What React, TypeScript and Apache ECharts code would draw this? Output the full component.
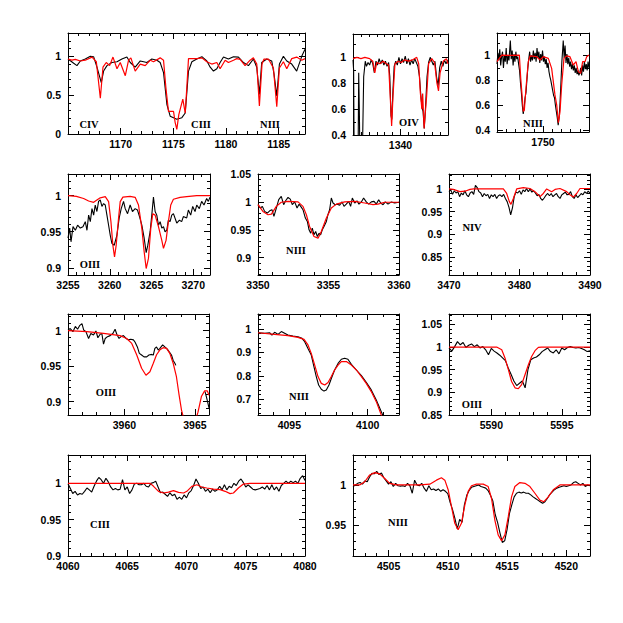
import React, { useEffect, useRef } from "react";
import * as echarts from "echarts";

type Pt = [number, number | null];

// ---------- Panel 1: 1165-1187.5 (CIV, CIII, NIII) ----------
const p1Obs: Pt[] = [[1165.0,0.965],[1165.54,0.91],[1165.85,0.88],[1166.17,0.94],[1166.64,0.965],[1167.12,1.0],[1167.43,0.995],[1167.75,0.86],[1168.16,0.66],[1168.38,0.81],[1168.70,0.88],[1169.17,0.92],[1169.65,0.93],[1170.12,0.965],[1170.59,0.99],[1170.91,0.92],[1171.38,0.86],[1171.86,0.94],[1172.49,0.92],[1172.96,0.965],[1173.44,0.95],[1173.75,0.92],[1174.07,0.79],[1174.39,0.38],[1174.70,0.23],[1175.33,0.19],[1175.81,0.21],[1176.13,0.27],[1176.44,0.81],[1176.76,0.93],[1177.23,0.965],[1177.71,0.995],[1178.18,0.94],[1178.50,0.86],[1178.81,0.81],[1179.13,0.84],[1179.44,0.92],[1179.76,0.99],[1180.23,0.965],[1180.71,0.995],[1181.18,0.99],[1181.66,0.92],[1182.13,0.88],[1182.60,0.965],[1182.92,0.86],[1183.17,0.51],[1183.39,0.92],[1183.87,0.965],[1184.34,0.94],[1184.56,0.77],[1184.82,0.49],[1185.07,0.90],[1185.45,1.0],[1185.77,0.94],[1186.24,0.90],[1186.71,0.81],[1187.19,1.0],[1187.5,1.09]];
const p1Mod: Pt[] = [[1165.0,0.965],[1165.38,0.95],[1165.70,0.96],[1166.17,0.94],[1166.64,0.95],[1167.28,0.99],[1167.69,0.93],[1168.07,0.46],[1168.32,0.86],[1168.63,0.92],[1168.95,0.88],[1169.27,0.99],[1169.65,0.84],[1169.96,0.92],[1170.44,0.75],[1170.75,0.95],[1170.97,0.98],[1171.38,0.81],[1171.86,0.90],[1172.33,0.88],[1172.81,0.95],[1173.12,0.93],[1173.75,0.98],[1174.07,0.95],[1174.29,0.60],[1174.54,0.29],[1175.02,0.29],[1175.17,0.15],[1175.33,0.06],[1175.52,0.25],[1175.90,0.45],[1176.13,0.27],[1176.28,0.60],[1176.44,0.97],[1177.23,0.97],[1177.71,0.98],[1178.18,0.93],[1178.65,0.90],[1179.13,0.92],[1179.44,0.84],[1179.92,0.95],[1180.23,0.92],[1180.71,0.95],[1181.02,0.97],[1181.34,0.96],[1181.81,0.88],[1182.29,0.95],[1182.60,0.98],[1182.92,0.90],[1183.17,0.36],[1183.42,0.90],[1183.61,0.965],[1184.03,0.965],[1184.50,0.85],[1184.82,0.35],[1185.07,0.85],[1185.45,0.93],[1185.77,0.84],[1186.24,0.97],[1186.71,0.99],[1187.19,0.95],[1187.5,0.97]];

// ---------- Panel 2: 1334-1346 (OIV) ----------
const p2Obs: Pt[] = [[1334.0,0.98],[1334.08,0.9],[1334.15,0.2],[1334.5,0.1],[1334.65,0.3],[1334.72,0.88],[1334.8,0.6],[1334.88,0.2],[1335.1,0.2],[1335.2,0.3],[1335.35,0.85],[1335.55,0.97],[1335.7,0.93],[1335.9,0.96],[1336.1,0.94],[1336.3,0.98],[1336.5,0.95],[1336.7,0.88],[1336.9,0.97],[1337.1,0.94],[1337.3,0.99],[1337.5,0.95],[1337.7,0.98],[1337.9,0.94],[1338.1,0.97],[1338.3,0.93],[1338.5,0.96],[1338.65,0.85],[1338.8,0.55],[1338.9,0.52],[1339.05,0.75],[1339.2,0.93],[1339.4,0.97],[1339.6,0.94],[1339.8,1.0],[1340.0,0.95],[1340.2,0.99],[1340.4,0.96],[1340.6,1.01],[1340.8,0.95],[1341.0,0.99],[1341.2,0.94],[1341.4,0.98],[1341.6,0.95],[1341.8,0.99],[1342.0,0.96],[1342.2,0.93],[1342.4,0.85],[1342.55,0.72],[1342.7,0.62],[1342.85,0.58],[1343.0,0.45],[1343.15,0.6],[1343.35,0.85],[1343.55,0.96],[1343.75,1.0],[1343.95,0.97],[1344.15,0.94],[1344.35,0.97],[1344.55,0.85],[1344.75,0.78],[1344.95,0.92],[1345.15,0.97],[1345.35,0.93],[1345.55,0.98],[1345.75,0.95],[1346.0,0.98]];
const p2Mod: Pt[] = [[1334.0,0.99],[1334.5,1.0],[1335.0,0.99],[1335.5,1.0],[1336.1,0.99],[1336.5,0.97],[1336.75,0.88],[1337.0,0.96],[1337.4,0.95],[1337.8,0.97],[1338.2,0.95],[1338.5,0.94],[1338.7,0.7],[1338.88,0.47],[1339.05,0.7],[1339.3,0.95],[1339.7,0.97],[1340.1,0.96],[1340.5,0.98],[1341.0,0.97],[1341.5,0.98],[1342.05,1.0],[1342.3,0.95],[1342.5,0.73],[1342.7,0.6],[1342.8,0.72],[1342.98,0.45],[1343.3,0.7],[1343.55,0.95],[1343.95,0.99],[1344.3,0.96],[1344.6,0.8],[1344.8,0.74],[1345.0,0.88],[1345.4,0.97],[1345.8,0.99],[1346.0,0.95]];

// ---------- Panel 3: 1745-1755 (NIII) ----------
const p3Obs: Pt[] = [[1745.0,0.93],[1745.1,1.02],[1745.2,0.96],[1745.3,1.05],[1745.4,0.92],[1745.5,0.99],[1745.6,1.03],[1745.7,0.9],[1745.8,1.0],[1745.9,0.95],[1746.0,1.06],[1746.1,0.93],[1746.2,1.0],[1746.3,0.96],[1746.45,1.12],[1746.55,0.97],[1746.65,1.04],[1746.75,0.92],[1746.85,1.01],[1746.95,0.95],[1747.05,1.03],[1747.15,0.97],[1747.25,0.99],[1747.35,0.93],[1747.45,0.88],[1747.55,0.78],[1747.65,0.7],[1747.75,0.6],[1747.85,0.53],[1747.95,0.58],[1748.05,0.66],[1748.15,0.7],[1748.25,0.8],[1748.35,0.9],[1748.45,0.97],[1748.55,1.03],[1748.65,0.95],[1748.75,1.0],[1748.85,0.96],[1748.95,1.04],[1749.05,0.97],[1749.15,1.02],[1749.25,0.95],[1749.35,1.06],[1749.45,0.98],[1749.55,1.03],[1749.65,0.94],[1749.75,1.01],[1749.85,0.96],[1749.95,1.04],[1750.05,0.95],[1750.15,0.99],[1750.25,0.93],[1750.35,0.97],[1750.45,0.9],[1750.55,0.94],[1750.65,0.87],[1750.75,0.83],[1750.85,0.8],[1750.95,0.76],[1751.05,0.72],[1751.15,0.68],[1751.25,0.66],[1751.35,0.6],[1751.45,0.55],[1751.55,0.5],[1751.65,0.44],[1751.75,0.5],[1751.85,0.62],[1751.95,0.78],[1752.05,0.95],[1752.15,1.06],[1752.2,1.12],[1752.3,0.98],[1752.4,1.08],[1752.5,0.94],[1752.6,1.01],[1752.7,0.93],[1752.8,0.98],[1752.9,0.91],[1753.0,0.95],[1753.1,0.89],[1753.2,0.93],[1753.3,0.88],[1753.4,0.92],[1753.5,0.86],[1753.6,0.9],[1753.7,0.85],[1753.8,0.88],[1753.9,0.84],[1754.0,0.86],[1754.1,0.9],[1754.2,0.84],[1754.3,0.92],[1754.4,0.87],[1754.5,0.95],[1754.6,0.89],[1754.7,0.93],[1754.8,0.88],[1754.9,0.95],[1755.0,0.9]];
const p3Mod: Pt[] = [[1745.0,0.95],[1745.51,1.003],[1746.5,1.0],[1747.43,1.003],[1747.58,0.816],[1747.86,0.55],[1747.97,0.56],[1748.15,0.736],[1748.40,0.95],[1748.59,0.996],[1749.31,0.99],[1749.67,0.963],[1750.03,0.99],[1750.58,0.976],[1750.94,0.896],[1751.30,0.683],[1751.49,0.603],[1751.67,0.46],[1751.85,0.549],[1752.03,0.763],[1752.28,0.976],[1752.57,0.996],[1752.93,0.99],[1753.29,0.923],[1753.59,0.95],[1753.84,0.87],[1754.09,0.856],[1754.31,0.95],[1754.57,0.95],[1754.75,0.99],[1755.0,1.003]];

// ---------- Panel 4: 3255-3272 (OIII) ----------
const p4Obs: Pt[] = [[3255.00,0.941],[3255.20,0.955],[3255.36,0.936],[3255.60,0.957],[3255.88,0.952],[3256.15,0.959],[3256.47,0.955],[3256.79,0.957],[3257.07,0.964],[3257.27,0.952],[3257.47,0.973],[3257.67,0.964],[3257.87,0.982],[3258.07,0.973],[3258.26,0.987],[3258.46,0.978],[3258.66,0.992],[3258.86,0.994],[3259.06,0.985],[3259.26,0.989],[3259.46,0.987],[3259.66,0.973],[3259.86,0.959],[3260.06,0.945],[3260.25,0.934],[3260.53,0.931],[3260.85,0.945],[3261.13,0.969],[3261.37,0.982],[3261.65,0.992],[3261.85,0.982],[3262.13,0.975],[3262.44,0.987],[3262.72,0.978],[3263.04,0.982],[3263.32,0.980],[3263.56,0.971],[3263.84,0.959],[3264.12,0.941],[3264.36,0.921],[3264.55,0.931],[3264.83,0.950],[3265.03,0.973],[3265.23,0.998],[3265.43,0.978],[3265.63,0.973],[3265.83,0.959],[3266.03,0.964],[3266.23,0.955],[3266.43,0.957],[3266.62,0.950],[3266.82,0.952],[3267.02,0.966],[3267.22,0.964],[3267.42,0.973],[3267.62,0.975],[3268.02,0.962],[3268.34,0.966],[3268.61,0.964],[3268.81,0.971],[3269.21,0.969],[3269.41,0.980],[3269.69,0.973],[3269.93,0.985],[3270.21,0.978],[3270.41,0.987],[3270.72,0.982],[3271.00,0.992],[3271.28,0.987],[3271.60,0.996],[3271.80,0.992],[3272.00,0.998]];
const p4Mod: Pt[] = [[3255,1.0],[3256.0,0.999],[3256.87,0.996],[3257.47,0.9926],[3258.07,0.9907],[3258.46,0.994],[3258.86,0.997],[3259.46,0.9986],[3259.86,0.9917],[3260.14,0.964],[3260.37,0.9315],[3260.57,0.915],[3260.77,0.9315],[3261.05,0.9685],[3261.25,0.9917],[3261.57,0.998],[3262.44,0.999],[3263.04,0.9977],[3263.44,0.987],[3263.84,0.9546],[3264.12,0.922],[3264.36,0.899],[3264.63,0.913],[3264.91,0.9546],[3265.15,0.975],[3265.43,0.973],[3265.83,0.957],[3266.23,0.938],[3266.43,0.927],[3266.74,0.938],[3267.02,0.964],[3267.30,0.987],[3267.62,0.995],[3268.42,0.9977],[3269.21,0.9986],[3270.41,1.0],[3272,1.0]];

// ---------- Panel 5: 3350-3360 (NIII) ----------
const p5Obs: Pt[] = [[3350.00,0.995],[3350.17,0.989],[3350.31,0.992],[3350.47,0.983],[3350.66,0.980],[3350.83,0.984],[3350.99,0.986],[3351.13,0.974],[3351.30,0.989],[3351.47,1.004],[3351.65,1.010],[3351.82,0.995],[3351.96,1.002],[3352.13,1.008],[3352.29,1.005],[3352.43,0.995],[3352.60,1.0],[3352.77,0.989],[3352.91,0.996],[3353.03,0.992],[3353.19,0.986],[3353.36,0.971],[3353.50,0.965],[3353.62,0.950],[3353.74,0.944],[3353.85,0.953],[3353.97,0.941],[3354.09,0.947],[3354.21,0.938],[3354.33,0.944],[3354.44,0.941],[3354.56,0.950],[3354.68,0.956],[3354.85,0.965],[3354.96,0.977],[3355.08,0.986],[3355.20,1.007],[3355.32,0.998],[3355.48,0.995],[3355.63,0.996],[3355.79,0.994],[3355.96,1.0],[3356.10,0.992],[3356.26,0.996],[3356.43,1.001],[3356.57,0.992],[3356.69,1.007],[3356.86,0.998],[3357.02,1.002],[3357.16,0.996],[3357.33,1.0],[3357.49,1.007],[3357.68,1.0],[3357.85,0.996],[3358.04,1.0],[3358.23,1.001],[3358.39,0.996],[3358.56,1.004],[3358.70,0.998],[3358.87,0.995],[3359.03,1.0],[3359.22,0.996],[3359.46,1.0],[3359.69,0.998],[3360.00,0.9994]];
const p5Mod: Pt[] = [[3350,0.995],[3350.35,0.983],[3350.71,0.977],[3350.95,0.978],[3351.30,0.992],[3351.65,0.9994],[3352.13,1.001],[3352.84,1.0],[3353.19,0.992],[3353.43,0.977],[3353.66,0.956],[3353.97,0.938],[3354.26,0.935],[3354.49,0.947],[3354.85,0.971],[3355.20,0.989],[3355.56,0.996],[3356.15,1.0],[3356.86,1.001],[3357.57,0.998],[3358.16,0.995],[3358.51,0.996],[3358.98,0.9994],[3360,0.9994]];

// ---------- Panel 6: 3470-3490 (NIV), observed on a 0.25 A grid ----------
const p6Start = 3470;
const p6Step = 0.25;
const p6Flux: number[] = [0.994,0.998,0.988,0.996,0.991,0.994,0.983,0.991,0.987,0.996,0.987,0.983,0.991,0.994,0.988,1.008,1.003,0.994,0.991,0.983,0.990,0.985,0.988,0.979,0.987,0.983,0.988,0.979,0.985,0.987,0.983,0.988,0.979,0.972,0.960,0.943,0.958,0.983,0.993,0.991,0.996,0.988,0.998,0.994,1.001,0.994,1.0,0.993,0.996,0.991,0.985,0.988,0.979,0.975,0.980,0.986,0.990,0.985,0.990,0.983,0.987,0.990,0.983,0.979,0.987,0.990,0.993,0.987,0.988,0.994,0.983,0.979,0.987,0.981,0.985,0.990,0.987,0.994,0.990,0.995,0.991];
const p6Mod: Pt[] = [[3470,1.0],[3470.61,0.999],[3471.56,0.994],[3472.27,0.995],[3472.98,0.999],[3473.5,1.0],[3477.71,1.0],[3478.18,0.99],[3478.56,0.972],[3478.79,0.966],[3479.13,0.979],[3479.60,1.0],[3480.54,1.003],[3481.49,1.001],[3482.20,0.994],[3482.91,0.983],[3483.38,0.99],[3483.85,1.0],[3484.56,0.994],[3485.04,0.999],[3485.74,1.001],[3486.69,0.994],[3487.16,0.987],[3487.64,0.982],[3488.11,0.99],[3488.58,1.001],[3490,1.001]];

// ---------- Panel 7: 3956-3966 (OIII); the observed spectrum has a gap ----------
const p7Obs: Pt[] = [[3956.00,1.001],[3956.16,1.003],[3956.35,0.9986],[3956.52,1.006],[3956.68,1.002],[3956.82,1.007],[3956.99,1.010],[3957.11,1.001],[3957.27,0.9986],[3957.46,0.989],[3957.62,0.996],[3957.81,0.994],[3957.98,0.9995],[3958.12,0.990],[3958.28,0.995],[3958.40,0.996],[3958.52,0.981],[3958.64,0.989],[3958.80,0.9915],[3958.99,0.993],[3959.18,0.996],[3959.34,1.002],[3959.46,0.995],[3959.62,0.989],[3959.76,0.9915],[3959.93,0.993],[3960.12,0.989],[3960.28,0.987],[3960.45,0.988],[3960.64,0.987],[3960.75,0.984],[3960.92,0.977],[3961.06,0.968],[3961.22,0.9656],[3961.39,0.963],[3961.58,0.963],[3961.74,0.9656],[3961.88,0.9665],[3962.05,0.9656],[3962.16,0.975],[3962.28,0.977],[3962.40,0.9726],[3962.52,0.975],[3962.71,0.980],[3962.87,0.977],[3963.04,0.974],[3963.18,0.970],[3963.34,0.9656],[3963.46,0.958],[3963.58,0.954],[3963.65,0.951],[3963.7,null],[3965.72,0.914],[3965.86,0.903],[3966.0,0.891]];
const p7Mod: Pt[] = [[3956,1.0],[3957.34,0.9986],[3958.52,0.9962],[3959.69,0.993],[3960.16,0.989],[3960.52,0.982],[3960.87,0.966],[3961.22,0.947],[3961.53,0.937],[3961.81,0.942],[3962.05,0.954],[3962.28,0.966],[3962.52,0.973],[3962.75,0.976],[3962.99,0.975],[3963.22,0.968],[3963.46,0.954],[3963.69,0.935],[3963.88,0.909],[3964.05,0.888],[3964.21,0.876],[3964.64,0.85],[3965.22,0.885],[3965.46,0.907],[3965.69,0.915],[3965.88,0.915],[3966,0.909]];

// ---------- Panel 8: 4093-4102 (NIII) ----------
const p8Obs: Pt[] = [[4093.00,0.984],[4093.43,0.9815],[4093.74,0.984],[4093.89,0.974],[4094.06,0.986],[4094.28,0.977],[4094.49,0.989],[4094.70,0.9815],[4094.91,0.974],[4095.23,0.970],[4095.55,0.967],[4095.81,0.960],[4095.98,0.946],[4096.19,0.917],[4096.40,0.889],[4096.57,0.839],[4096.72,0.797],[4096.87,0.761],[4097.04,0.743],[4097.21,0.735],[4097.36,0.740],[4097.53,0.761],[4097.68,0.789],[4097.89,0.825],[4098.11,0.853],[4098.32,0.871],[4098.53,0.875],[4098.74,0.871],[4098.96,0.849],[4099.28,0.825],[4099.60,0.801],[4099.91,0.772],[4100.23,0.740],[4100.55,0.697],[4100.87,0.647],[4101.09,0.612]];
const p8Mod: Pt[] = [[4093,0.984],[4094.06,0.977],[4094.91,0.972],[4095.55,0.964],[4095.94,0.956],[4096.19,0.932],[4096.40,0.896],[4096.62,0.846],[4096.83,0.797],[4097.04,0.768],[4097.26,0.761],[4097.47,0.772],[4097.68,0.797],[4097.89,0.825],[4098.11,0.846],[4098.32,0.861],[4098.64,0.861],[4098.96,0.846],[4099.28,0.825],[4099.60,0.797],[4099.91,0.768],[4100.23,0.733],[4100.55,0.69],[4100.87,0.633],[4101.09,0.6]];

// ---------- Panel 9: 5587-5597 (OIII), observed on a 0.2 A grid ----------
const p9Start = 5587;
const p9Step = 0.2;
const p9Flux: number[] = [0.998,0.991,1.001,1.012,1.005,1.01,0.999,1.004,1.007,1.001,1.005,0.998,1.001,0.994,0.983,0.997,0.991,0.987,0.982,0.976,0.97,0.954,0.94,0.925,0.915,0.92,0.925,0.91,0.95,0.972,0.976,0.978,0.983,0.99,0.994,0.998,0.99,0.987,0.994,0.985,0.998,0.994,0.999,1.001,0.999,0.998,0.999,0.997,0.994,0.99,0.992];
const p9Mod: Pt[] = [[5587,1.0],[5590.38,1.0],[5590.74,0.994],[5590.97,0.976],[5591.21,0.95],[5591.44,0.924],[5591.68,0.910],[5591.92,0.908],[5592.15,0.917],[5592.39,0.939],[5592.63,0.961],[5592.86,0.979],[5593.10,0.992],[5593.34,0.9993],[5593.57,1.0],[5597,1.0]];

// ---------- Panel 10: 4060-4080 (CIII), observed on a 0.2 A grid ----------
const p10Start = 4060;
const p10Step = 0.2;
const p10Flux: number[] = [0.9995,0.993,0.986,0.989,0.984,0.986,0.985,0.989,0.9936,0.991,0.988,0.996,1.003,1.008,1.005,1.0,1.007,1.002,0.995,0.991,0.993,0.991,0.992,1.005,0.991,0.995,0.986,0.991,0.999,1.0,0.998,0.998,1.0,0.996,0.995,1.0,1.001,1.003,0.995,0.987,0.988,0.985,0.982,0.987,0.983,0.985,0.978,0.981,0.978,0.984,0.980,0.987,0.990,0.997,1.006,1.0,0.993,0.995,0.989,0.992,0.987,0.992,0.989,0.991,0.996,0.991,0.998,0.991,0.996,0.994,1.0,0.997,1.003,1.006,1.001,0.995,0.998,0.995,0.992,0.991,0.992,0.993,0.995,0.992,0.997,0.991,0.998,0.991,0.995,0.989,0.997,1.0,1.003,1.0,1.003,1.001,1.003,1.0,1.007,1.0105,1.004];
const p10Mod: Pt[] = [[4060,1.0],[4066.94,1.0],[4067.22,0.9959],[4067.64,0.989],[4068.06,0.9867],[4068.48,0.988],[4068.90,0.990],[4069.33,0.9876],[4069.75,0.9867],[4070.03,0.989],[4070.45,0.9959],[4070.87,0.998],[4071.29,0.995],[4071.71,0.9936],[4072.28,0.992],[4072.84,0.9913],[4073.26,0.989],[4073.68,0.9858],[4073.96,0.9867],[4074.38,0.9936],[4074.80,0.999],[4075.37,1.0],[4080,1.0]];

// ---------- Panel 11: 4502-4522 (NIII), observed on a 0.2 A grid ----------
const p11Start = 4502;
const p11Step = 0.2;
const p11Flux: number[] = [0.998,1.0,1.002,1.003,1.001,1.005,1.004,1.010,1.0145,1.014,1.017,1.013,1.015,1.009,1.005,1.001,1.004,0.998,1.002,0.999,0.9985,0.999,0.998,1.002,0.999,0.9896,1.006,1.0,0.999,1.002,0.996,0.992,0.999,0.994,0.995,0.993,0.995,0.992,0.994,0.992,0.989,0.978,0.969,0.958,0.945,0.957,0.953,0.975,0.987,0.993,0.997,0.998,0.999,1.0,0.998,0.997,0.996,0.993,0.987,0.980,0.963,0.953,0.94,0.928,0.93,0.944,0.964,0.975,0.985,0.9896,0.991,0.99,0.991,0.9896,0.9896,0.9875,0.985,0.983,0.981,0.979,0.977,0.979,0.983,0.988,0.991,0.994,0.996,0.997,0.998,0.999,0.998,0.999,1.0,1.003,1.004,1.002,1.0,1.002,0.998,1.0,0.999];
const p11Mod: Pt[] = [[4502,1.0],[4502.56,1.0],[4502.99,1.004],[4503.41,1.0125],[4503.83,1.0154],[4504.25,1.0138],[4504.68,1.008],[4505.10,1.002],[4505.66,1.0],[4507.63,1.0],[4508.48,1.001],[4509.04,1.006],[4509.46,1.009],[4509.75,1.006],[4510.03,0.994],[4510.31,0.973],[4510.59,0.952],[4510.87,0.944],[4511.15,0.952],[4511.44,0.975],[4511.72,0.992],[4512.00,0.999],[4512.42,1.001],[4512.99,1.001],[4513.41,0.998],[4513.69,0.983],[4513.97,0.956],[4514.25,0.9375],[4514.54,0.930],[4514.82,0.9375],[4515.10,0.960],[4515.38,0.985],[4515.66,0.998],[4516.08,1.003],[4516.51,1.002],[4516.93,0.998],[4517.35,0.9896],[4517.77,0.981],[4518.11,0.979],[4518.48,0.985],[4518.90,0.994],[4519.46,1.0],[4522,1.0]];

// ---------- Ion labels ----------
const ionLabels = ["CIV", "CIII", "NIII", "OIV", "NIII", "OIII", "NIII", "NIV", "OIII", "NIII", "OIII", "CIII", "NIII"];

const onGrid = (start: number, step: number, flux: number[]): Pt[] =>
  flux.map((f, i) => [+(start + i * step).toFixed(4), f] as Pt);

const ticks = (min: number, max: number, step: number): number[] => {
  const out: number[] = [];
  const s = Math.ceil(min / step - 1e-9);
  for (let k = s; k * step <= max + 1e-9; k++) out.push(+(k * step).toFixed(6));
  return out;
};

interface Panel {
  rect: [number, number, number, number];
  x: [number, number];
  y: [number, number];
  xMajor: number[];
  xMinor: number;
  yMajor: number[];
  yMinor: number;
  obs: Pt[];
  mod: Pt[];
  labels: { text: string; x: number; y: number }[];
}

const panels: Panel[] = [
  { rect: [68, 33, 237, 101], x: [1165, 1187.5], y: [0, 1.3], xMajor: [1170, 1175, 1180, 1185], xMinor: 1, yMajor: [0, 0.5, 1], yMinor: 0.1, obs: p1Obs, mod: p1Mod,
    labels: [{ text: ionLabels[0], x: 89, y: 124 }, { text: ionLabels[1], x: 201, y: 124 }, { text: ionLabels[2], x: 270, y: 124 }] },
  { rect: [353, 34, 95, 101], x: [1334, 1346], y: [0.4, 1.18], xMajor: [1340], xMinor: 1, yMajor: [0.4, 0.6, 0.8, 1], yMinor: 0.1, obs: p2Obs, mod: p2Mod,
    labels: [{ text: ionLabels[3], x: 409, y: 122 }] },
  { rect: [497, 33, 92, 99], x: [1745, 1755], y: [0.385, 1.18], xMajor: [1750], xMinor: 1, yMajor: [0.4, 0.6, 0.8, 1], yMinor: 0.1, obs: p3Obs, mod: p3Mod,
    labels: [{ text: ionLabels[4], x: 533, y: 123 }] },
  { rect: [68, 174, 142, 101], x: [3255, 3272], y: [0.89, 1.03], xMajor: [3255, 3260, 3265, 3270], xMinor: 1, yMajor: [0.9, 0.95, 1], yMinor: 0.01, obs: p4Obs, mod: p4Mod,
    labels: [{ text: ionLabels[5], x: 90, y: 264 }] },
  { rect: [258, 174, 141, 101], x: [3350, 3360], y: [0.869, 1.05], xMajor: [3350, 3355, 3360], xMinor: 1, yMajor: [0.9, 0.95, 1, 1.05], yMinor: 0.01, obs: p5Obs, mod: p5Mod,
    labels: [{ text: ionLabels[6], x: 296, y: 250 }] },
  { rect: [449, 174, 141, 101], x: [3470, 3490], y: [0.81, 1.033], xMajor: [3470, 3480, 3490], xMinor: 2, yMajor: [0.85, 0.9, 0.95, 1], yMinor: 0.01, obs: onGrid(p6Start, p6Step, p6Flux), mod: p6Mod,
    labels: [{ text: ionLabels[7], x: 472, y: 227 }] },
  { rect: [68, 314, 141, 101], x: [3956, 3966], y: [0.881, 1.0235], xMajor: [3960, 3965], xMinor: 1, yMajor: [0.9, 0.95, 1], yMinor: 0.01, obs: p7Obs, mod: p7Mod,
    labels: [{ text: ionLabels[8], x: 106, y: 392 }] },
  { rect: [258, 314, 141, 101], x: [4093, 4102], y: [0.633, 1.064], xMajor: [4095, 4100], xMinor: 1, yMajor: [0.7, 0.8, 0.9, 1], yMinor: 0.02, obs: p8Obs, mod: p8Mod,
    labels: [{ text: ionLabels[9], x: 299, y: 396 }] },
  { rect: [449, 314, 141, 101], x: [5587, 5597], y: [0.85, 1.073], xMajor: [5590, 5595], xMinor: 1, yMajor: [0.85, 0.9, 0.95, 1, 1.05], yMinor: 0.01, obs: onGrid(p9Start, p9Step, p9Flux), mod: p9Mod,
    labels: [{ text: ionLabels[10], x: 472, y: 404 }] },
  { rect: [68, 455, 237, 101], x: [4060, 4080], y: [0.9, 1.039], xMajor: [4060, 4065, 4070, 4075, 4080], xMinor: 1, yMajor: [0.9, 0.95, 1], yMinor: 0.01, obs: onGrid(p10Start, p10Step, p10Flux), mod: p10Mod,
    labels: [{ text: ionLabels[11], x: 100, y: 524 }] },
  { rect: [353, 455, 237, 101], x: [4502, 4522], y: [0.911, 1.0375], xMajor: [4505, 4510, 4515, 4520], xMinor: 1, yMajor: [0.95, 1], yMinor: 0.01, obs: onGrid(p11Start, p11Step, p11Flux), mod: p11Mod,
    labels: [{ text: ionLabels[12], x: 398, y: 522 }] },
];

const fmt = (v: any) => String(+(+v).toFixed(4));
const LABEL_FONT = "'Liberation Sans', Arial, sans-serif";

function buildOption() {
  const grids: any[] = [];
  const xAxes: any[] = [];
  const yAxes: any[] = [];
  const series: any[] = [];
  const graphics: any[] = [];

  panels.forEach((p, gi) => {
    grids.push({ left: p.rect[0], top: p.rect[1], width: p.rect[2], height: p.rect[3], containLabel: false, show: false });
    const xMinorVals = ticks(p.x[0], p.x[1], p.xMinor);
    const yMinorVals = ticks(p.y[0], p.y[1], p.yMinor);
    const line = { show: true, onZero: false, lineStyle: { color: "#000", width: 1 } };
    const noLine = { show: false, onZero: false };
    const tickStyle = { color: "#000", width: 1 };
    const labelStyle = { color: "#000", fontSize: 10.5, fontWeight: "bold", fontFamily: LABEL_FONT, formatter: fmt };

    const xBase = { type: "value", gridIndex: gi, min: p.x[0], max: p.x[1], splitLine: { show: false }, silent: true };
    const xi = xAxes.length;
    xAxes.push({ ...xBase, position: "bottom", axisLine: line,
      axisTick: { show: true, inside: true, length: 6, customValues: p.xMajor, lineStyle: tickStyle },
      axisLabel: { show: true, customValues: p.xMajor, margin: 4, ...labelStyle } });
    xAxes.push({ ...xBase, position: "bottom", axisLine: noLine,
      axisTick: { show: true, inside: true, length: 3, customValues: xMinorVals, lineStyle: tickStyle }, axisLabel: { show: false } });
    xAxes.push({ ...xBase, position: "top", axisLine: line,
      axisTick: { show: true, inside: true, length: 6, customValues: p.xMajor, lineStyle: tickStyle }, axisLabel: { show: false } });
    xAxes.push({ ...xBase, position: "top", axisLine: noLine,
      axisTick: { show: true, inside: true, length: 3, customValues: xMinorVals, lineStyle: tickStyle }, axisLabel: { show: false } });

    const yBase = { type: "value", gridIndex: gi, min: p.y[0], max: p.y[1], splitLine: { show: false }, silent: true };
    const yi = yAxes.length;
    yAxes.push({ ...yBase, position: "left", axisLine: line,
      axisTick: { show: true, inside: true, length: 6, customValues: p.yMajor, lineStyle: tickStyle },
      axisLabel: { show: true, customValues: p.yMajor, margin: 7, ...labelStyle } });
    yAxes.push({ ...yBase, position: "left", axisLine: noLine,
      axisTick: { show: true, inside: true, length: 3, customValues: yMinorVals, lineStyle: tickStyle }, axisLabel: { show: false } });
    yAxes.push({ ...yBase, position: "right", axisLine: line,
      axisTick: { show: true, inside: true, length: 6, customValues: p.yMajor, lineStyle: tickStyle }, axisLabel: { show: false } });
    yAxes.push({ ...yBase, position: "right", axisLine: noLine,
      axisTick: { show: true, inside: true, length: 3, customValues: yMinorVals, lineStyle: tickStyle }, axisLabel: { show: false } });

    series.push({ type: "line", xAxisIndex: xi, yAxisIndex: yi, data: p.obs, showSymbol: false, symbol: "none", clip: true, silent: true, connectNulls: false,
      lineStyle: { color: "#000", width: 1.1 } });
    series.push({ type: "line", xAxisIndex: xi, yAxisIndex: yi, data: p.mod, showSymbol: false, symbol: "none", clip: true, silent: true,
      lineStyle: { color: "#ff0000", width: 1.2 } });

    p.labels.forEach((l) => {
      graphics.push({ type: "text", x: l.x, y: l.y, silent: true,
        style: { text: l.text, align: "center", verticalAlign: "middle", fill: "#000", fontSize: 10.5, fontWeight: "bold", fontFamily: "'Liberation Serif', 'Times New Roman', serif" } });
    });
  });

  return { animation: false, backgroundColor: "#fff", grid: grids, xAxis: xAxes, yAxis: yAxes, series, graphic: graphics };
}

export default function App() {
  const ref = useRef<HTMLDivElement>(null);
  useEffect(() => {
    if (!ref.current) return;
    const chart = echarts.init(ref.current, undefined, { renderer: "svg" });
    chart.setOption(buildOption() as any);
    return () => chart.dispose();
  }, []);
  return <div ref={ref} style={{ position: "absolute", left: 0, top: 0, width: 623, height: 623, background: "#fff" }} />;
}
